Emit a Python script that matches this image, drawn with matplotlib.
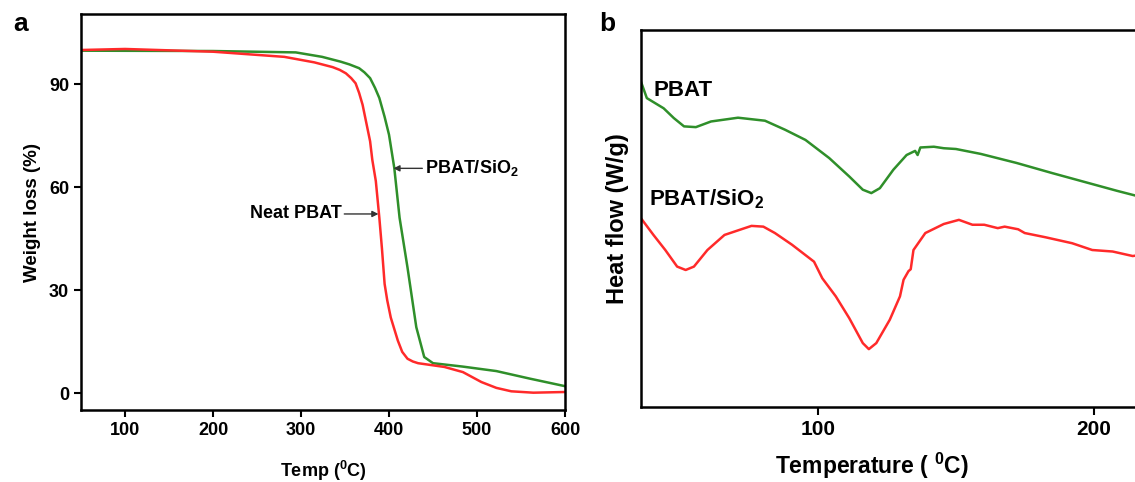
import matplotlib
matplotlib.use("Agg")
import matplotlib.pyplot as plt

plt.rcParams['font.family'] = ['Liberation Sans', 'DejaVu Sans']
plt.rcParams['font.weight'] = 'bold'
plt.rcParams['axes.labelweight'] = 'bold'
plt.rcParams['mathtext.fontset'] = 'custom'
plt.rcParams['mathtext.rm'] = 'Liberation Sans:bold'
plt.rcParams['mathtext.it'] = 'Liberation Sans:bold'
plt.rcParams['mathtext.bf'] = 'Liberation Sans:bold'

GREEN = '#2f8f2a'
RED = '#ff2a2a'

# --- TGA data (panel a) ---
tga_temp_neat = [50, 100, 200, 281, 315, 336, 344, 351, 357, 362, 366, 370, 374,
                 378.5, 381, 385, 389, 392, 395, 398, 402, 410, 415, 421, 427,
                 433, 463, 484, 505, 522, 539, 564, 600]
tga_wt_neat = [100, 100.3, 99.5, 98, 96.4, 95, 94.2, 93.2, 91.8, 90.3, 87.5, 84, 79,
               73.4, 68, 61.8, 51.1, 42, 31.8, 27, 22, 15.3, 12, 10, 9.2,
               8.7, 7.6, 6.1, 3.2, 1.5, 0.5, 0.1, 0.3]
tga_temp_sio2 = [50, 200, 294, 324, 345, 355, 366, 372, 378.5, 384, 389, 395,
                 400, 406, 412, 421, 431, 440, 450, 484, 522, 560, 600]
tga_wt_sio2 = [99.8, 99.7, 99.3, 98, 96.6, 95.8, 94.7, 93.5, 91.8, 89, 86, 80.5,
               75.3, 65.6, 51.1, 36.6, 19.2, 10.5, 8.7, 7.7, 6.4, 4.2, 2.0]

# --- DSC data (panel b), heat flow in arbitrary units ---
dsc_temp_pbat = [35.7, 37.8, 43.9, 47.6, 51.3, 55.6, 61.1, 70.9, 80.7, 88, 95.4,
                 104, 111.3, 116.2, 119.3, 122.4, 127.3, 132.1, 135.2, 136.1,
                 137.1, 142, 145.6, 150, 159, 172, 185, 198, 208.5, 217]
dsc_hf_pbat = [8.62, 8.19, 7.92, 7.66, 7.44, 7.42, 7.57, 7.67, 7.59, 7.35, 7.08,
               6.6, 6.11, 5.76, 5.67, 5.8, 6.29, 6.68, 6.79, 6.68,
               6.88, 6.9, 6.86, 6.84, 6.71, 6.47, 6.2, 5.94, 5.73, 5.57]
dsc_temp_sio2 = [35.7, 40.2, 44.5, 48.8, 51.9, 54.9, 59.8, 66, 72.1, 75.8, 80.1,
                 84.3, 90.5, 98.5, 101.5, 106.4, 111.3, 116.2, 118.4, 121.1,
                 126, 129.7, 131, 132.8, 133.6, 134.6, 138.9, 145.6, 151.1, 156,
                 160.3, 165.2, 167.7, 172.6, 175, 182.4, 192.2, 199.5, 206.9,
                 214.2, 217]
dsc_hf_sio2 = [5.0, 4.56, 4.16, 3.72, 3.63, 3.72, 4.16, 4.56, 4.71, 4.8, 4.78,
               4.61, 4.3, 3.85, 3.41, 2.93, 2.35, 1.69, 1.53, 1.69,
               2.31, 2.93, 3.37, 3.6, 3.65, 4.16, 4.61, 4.85, 4.96, 4.83,
               4.83, 4.74, 4.78, 4.71, 4.61, 4.5, 4.34, 4.16, 4.12,
               4.0, 4.03]

fig = plt.figure(figsize=(11.35, 4.82), dpi=100)

# ---------------- panel a ----------------
ax1 = fig.add_axes([0.0714, 0.149, 0.4264, 0.822])
ax1.plot(tga_temp_sio2, tga_wt_sio2, color=GREEN, lw=1.8)
ax1.plot(tga_temp_neat, tga_wt_neat, color=RED, lw=1.8)
ax1.set_xlim(50, 600)
ax1.set_ylim(-5, 110.5)
ax1.set_xticks([100, 200, 300, 400, 500, 600])
ax1.set_yticks([0, 30, 60, 90])
ax1.tick_params(direction='out', length=5, width=1.5, labelsize=13)
for s in ax1.spines.values():
    s.set_linewidth(1.8)
ax1.set_xlabel('Temp ($^{0}$C)', fontsize=13, labelpad=14)
ax1.set_ylabel('Weight loss (%)', fontsize=13.5, labelpad=6)

ax1.annotate('PBAT/SiO$_2$', xy=(405, 65.5), xytext=(441, 65.5),
             fontsize=13, va='center', ha='left',
             arrowprops=dict(arrowstyle='-|>', color='#333333', lw=1,
                             mutation_scale=9, shrinkA=0, shrinkB=0))
ax1.annotate('Neat PBAT', xy=(388, 52.2), xytext=(346, 52.2),
             fontsize=13, va='center', ha='right',
             arrowprops=dict(arrowstyle='-|>', color='#333333', lw=1,
                             mutation_scale=9, shrinkA=0, shrinkB=0))
fig.text(0.012, 0.935, 'a', fontsize=19, fontweight='bold')

# ---------------- panel b ----------------
ax2 = fig.add_axes([0.5648, 0.156, 0.44, 0.782])
ax2.plot(dsc_temp_pbat, dsc_hf_pbat, color=GREEN, lw=1.8)
ax2.plot(dsc_temp_sio2, dsc_hf_sio2, color=RED, lw=1.8)
ax2.set_xlim(35.7, 217)
ax2.set_ylim(0, 10)
ax2.set_xticks([100, 200])
ax2.set_yticks([])
ax2.tick_params(direction='out', length=6, width=1.5, labelsize=15)
for s in ax2.spines.values():
    s.set_linewidth(1.8)
ax2.set_xlabel('Temperature ( $^{0}$C)', fontsize=16.5)
ax2.xaxis.set_label_coords(0.463, -0.118)
ax2.set_ylabel('Heat flow (W/g)', fontsize=17, labelpad=9)
ax2.text(40.2, 8.4, 'PBAT', fontsize=16, va='center')
ax2.text(38.6, 5.5, 'PBAT/SiO$_2$', fontsize=16, va='center')
fig.text(0.528, 0.935, 'b', fontsize=19, fontweight='bold')

fig.savefig('out.png', dpi=100)
